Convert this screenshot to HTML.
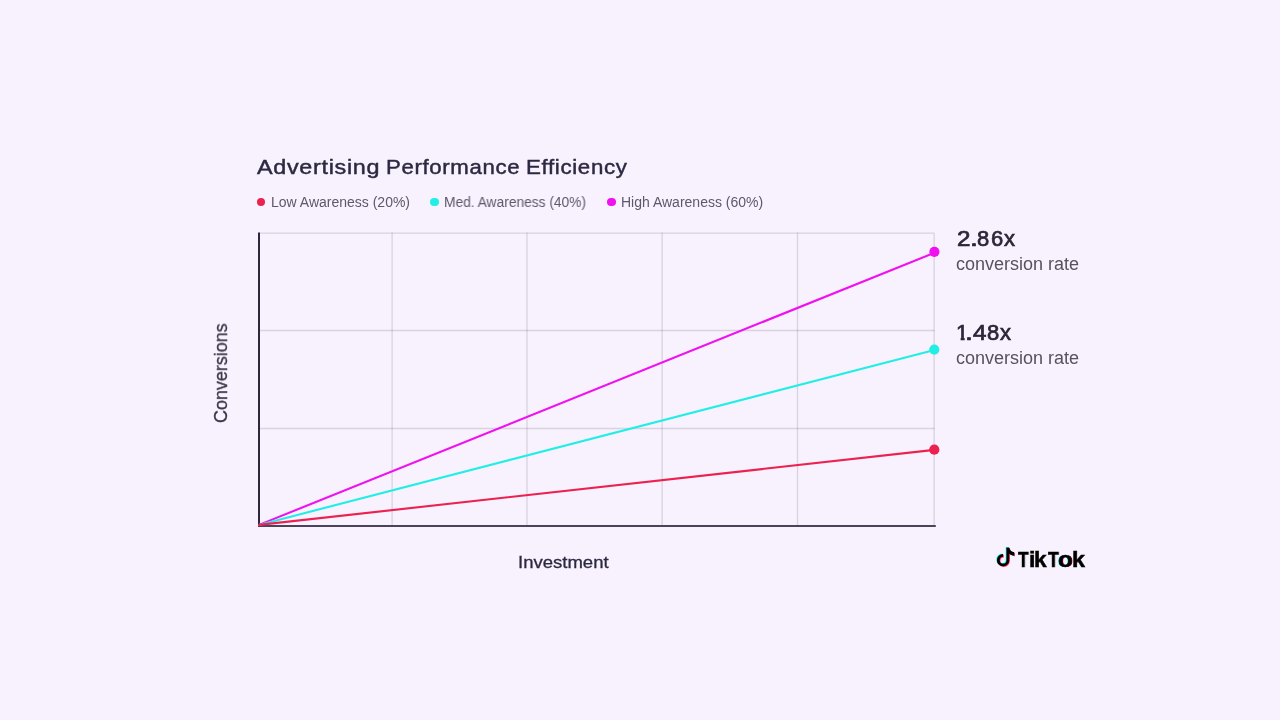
<!DOCTYPE html>
<html lang="en">
<head>
<meta charset="utf-8">
<title>Advertising Performance Efficiency</title>
<style>
  html, body { margin: 0; padding: 0; }
  body {
    width: 1280px; height: 720px; overflow: hidden; position: relative;
    background: #f7f2fd;
    font-family: "Liberation Sans", "DejaVu Sans", sans-serif;
  }
  .t { position: absolute; white-space: nowrap; line-height: 1; transform-origin: 0 0; will-change: transform; }
  .ti { top: 156.9px; font-size: 20.5px; color: #2d2841; -webkit-text-stroke: 0.45px #2d2841; letter-spacing: 0.6px; }
  .leg { top: 195.3px; font-size: 14px; color: #5d586a; }
  .dot { position: absolute; width: 8.4px; height: 8.4px; border-radius: 50%; }
  .big { font-size: 22px; color: #2b2638; -webkit-text-stroke: 0.7px #2b2638; }
  .sub { font-size: 18px; color: #57525f; }
  #ylab { left: 212.2px; top: 423.2px; font-size: 18px; color: #3a3548; -webkit-text-stroke: 0.3px #3a3548; transform: rotate(-90deg) scaleX(0.996); }
  #xlab { left: 517.6px; top: 553.7px; font-size: 17px; color: #2d2841; -webkit-text-stroke: 0.3px #2d2841; transform: scaleX(1.09); }
  #logo { position: absolute; left: 990px; top: 542px; }
  .wm { top: 550px; font-size: 21.5px; font-weight: 700; color: #000; -webkit-text-stroke: 0.5px #000; }
  svg.chart { position: absolute; left: 0; top: 0; }
</style>
</head>
<body>
<div class="t ti" style="left:257px;transform:scaleX(1.14)">Advertising</div>
<div class="t ti" style="left:386.1px;transform:scaleX(1.082)">Performance</div>
<div class="t ti" style="left:526.3px;transform:scaleX(1.088)">Efficiency</div>

<span class="dot" style="left:257px;top:197.8px;background:#ec2150"></span>
<div class="t leg" style="left:270.8px">Low Awareness (20%)</div>
<span class="dot" style="left:430.3px;top:197.8px;background:#22eee6"></span>
<div class="t leg" style="left:443.7px;transform:scaleX(0.983)">Med. Awareness (40%)</div>
<span class="dot" style="left:607.2px;top:197.8px;background:#ef12ef"></span>
<div class="t leg" style="left:620.9px">High Awareness (60%)</div>

<svg class="chart" width="1280" height="720" viewBox="0 0 1280 720">
  <g stroke="rgb(67,62,73)" stroke-opacity="0.17" stroke-width="1.3" fill="none">
    <line x1="259" y1="233.1" x2="934.7" y2="233.1"/>
    <line x1="259" y1="330.5" x2="934.7" y2="330.5"/>
    <line x1="259" y1="428.5" x2="934.7" y2="428.5"/>
    <line x1="392.1" y1="232.45" x2="392.1" y2="525"/>
    <line x1="527" y1="232.45" x2="527" y2="525"/>
    <line x1="662.1" y1="232.45" x2="662.1" y2="525"/>
    <line x1="797.5" y1="232.45" x2="797.5" y2="525"/>
    <line x1="934.1" y1="233.75" x2="934.1" y2="525"/>
  </g>
  <line x1="259" y1="232.4" x2="259" y2="527" stroke="#2e2740" stroke-width="2"/>
  <line x1="258" y1="526" x2="935.8" y2="526" stroke="#4a4459" stroke-width="2"/>
  <g stroke-width="2.1" fill="none" stroke-linecap="round">
    <line x1="259" y1="524.9" x2="934.4" y2="252.8" stroke="#ef12ef"/>
    <line x1="259" y1="524.9" x2="934.4" y2="350.0" stroke="#22eee6"/>
    <line x1="259" y1="524.9" x2="934.4" y2="449.9" stroke="#ec2150"/>
  </g>
  <circle cx="934.3" cy="449.7" r="5.1" fill="#ec2150"/>
  <circle cx="934.3" cy="349.6" r="5.1" fill="#22eee6"/>
  <circle cx="934.4" cy="251.8" r="5.1" fill="#ef12ef"/>
</svg>

<span class="t big" style="left:957.15px;top:227.8px;transform:scaleX(1.1)">2</span><span class="t big" style="left:969.75px;top:227.8px;transform:scaleX(1.3)">.</span><span class="t big" style="left:976.95px;top:227.8px;transform:scaleX(1)">8</span><span class="t big" style="left:990.5px;top:227.8px;transform:scaleX(1)">6</span><span class="t big" style="left:1004.1px;top:227.8px;transform:scaleX(1)">x</span>
<div class="t sub" style="left:956.1px;top:255.3px">conversion rate</div>
<span class="t big" style="left:956px;top:322.2px;clip-path:polygon(0 0,100% 0,100% 14.6px,8.7px 14.6px,8.7px 100%,4.6px 100%,4.6px 14.6px,0 14.6px)">1</span><span class="t big" style="left:965.2px;top:322.2px;transform:scaleX(1.3)">.</span><span class="t big" style="left:972.55px;top:322.2px;transform:scaleX(1.1)">4</span><span class="t big" style="left:986.8px;top:322.2px;transform:scaleX(1)">8</span><span class="t big" style="left:1000px;top:322.2px;transform:scaleX(1)">x</span>
<div class="t sub" style="left:956.1px;top:349.4px">conversion rate</div>

<div class="t" id="ylab">Conversions</div>
<div class="t" id="xlab">Investment</div>

<svg id="logo" width="30" height="30" viewBox="0 0 30 30">
  <defs><filter id="sf" x="-20%" y="-20%" width="140%" height="140%"><feGaussianBlur stdDeviation="0.35"/></filter></defs>
  <g transform="translate(-0.7 -0.6)" fill="#25f4ee" stroke="#25f4ee" filter="url(#sf)"><g fill="none" stroke-width="2.8"><path d="M17.8 5.8V18.2A4.75 4.75 0 1 1 13.05 13.45"/></g><path d="M16.4 5.8H19.2C19.5 7.9 21.3 9.9 24.2 10.3V13.6C22.4 13.5 20.6 12.7 19.2 11.7Z" stroke="none"/></g>
  <g transform="translate(0.7 0.6)" fill="#fe2c55" stroke="#fe2c55" filter="url(#sf)"><g fill="none" stroke-width="2.8"><path d="M17.8 5.8V18.2A4.75 4.75 0 1 1 13.05 13.45"/></g><path d="M16.4 5.8H19.2C19.5 7.9 21.3 9.9 24.2 10.3V13.6C22.4 13.5 20.6 12.7 19.2 11.7Z" stroke="none"/></g>
  <g fill="#000" stroke="#000"><g fill="none" stroke-width="2.8"><path d="M17.8 5.8V18.2A4.75 4.75 0 1 1 13.05 13.45"/></g><path d="M16.4 5.8H19.2C19.5 7.9 21.3 9.9 24.2 10.3V13.6C22.4 13.5 20.6 12.7 19.2 11.7Z" stroke="none"/></g>
</svg>
<div class="t wm" style="left:1018px;transform:scaleX(0.81)">T</div><div class="t wm" style="left:1028.8px;transform:scaleX(1.07)">i</div><div class="t wm" style="left:1034.1px;transform:scaleX(1.055)">k</div><div class="t wm" style="left:1047.6px;transform:scaleX(0.82)">T</div><div class="t wm" style="left:1057.5px;transform:scaleX(1.12);text-shadow:-0.6px 0 #25f4ee,0.6px 0 #fe2c55">o</div><div class="t wm" style="left:1071.9px;transform:scaleX(1.085)">k</div>
</body>
</html>
